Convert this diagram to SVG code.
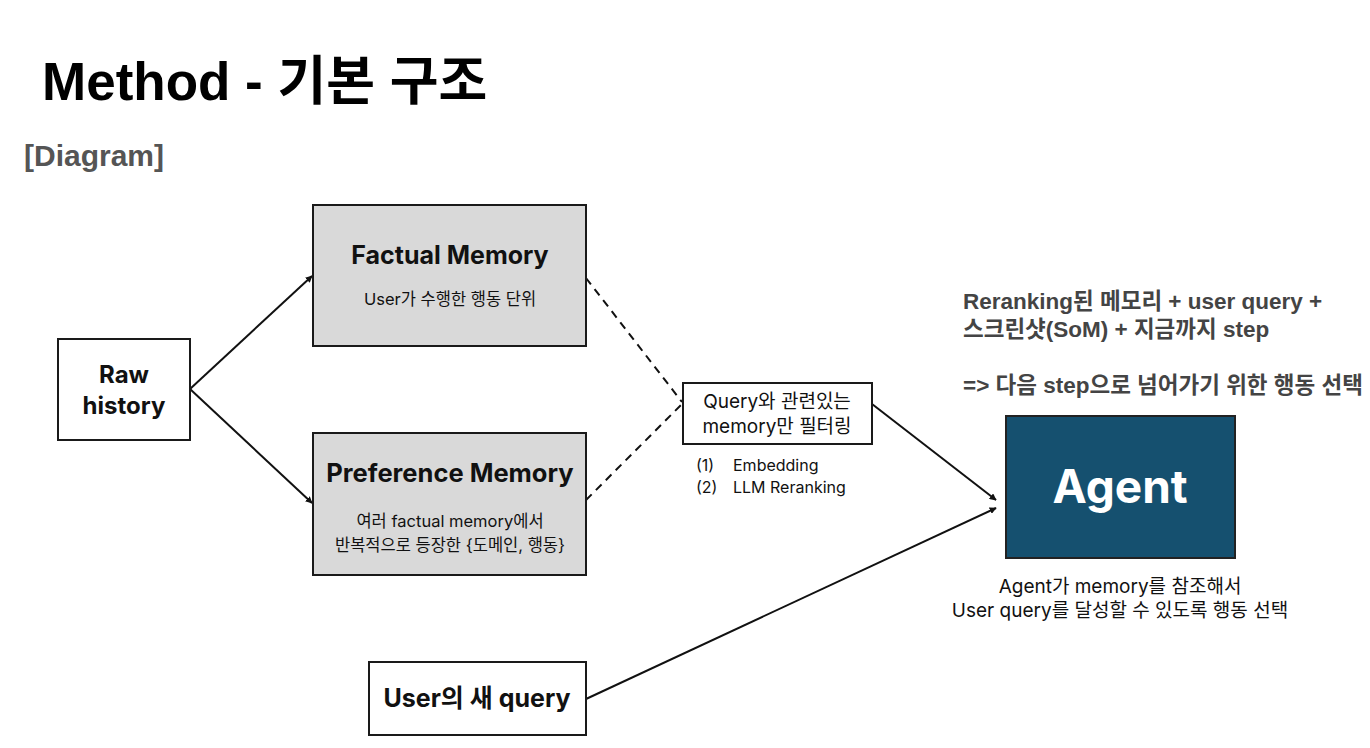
<svg xmlns="http://www.w3.org/2000/svg" width="1370" height="748" viewBox="0 0 1370 748">
<style>
.box{stroke:#1a1a1a;stroke-width:2}
.t{font-family:Inter,"Noto Sans","Noto Sans CJK KR",sans-serif;fill:#111;text-anchor:middle}
.s{font-family:Inter,"Noto Sans","Noto Sans CJK KR",sans-serif;fill:#111;text-anchor:start}
.b{font-weight:700}
.ln{stroke:#111;stroke-width:2;fill:none}
.dash{stroke-dasharray:8 6}
.note{font-family:"Liberation Sans",Arial,"Noto Sans CJK KR",sans-serif;font-weight:700;fill:#444;font-size:22.5px}
</style>
<defs>
<marker id="ah" viewBox="0 0 10 10" refX="9" refY="5" markerWidth="7" markerHeight="7" markerUnits="userSpaceOnUse" orient="auto">
<path d="M0,0 L10,5 L0,10 z" fill="#111"/>
</marker>
</defs>
<rect width="1370" height="748" fill="#fff"/>
<text x="42" y="100" font-family="Liberation Sans,Arial,'Noto Sans CJK KR',sans-serif" font-size="53" font-weight="700" fill="#000">Method - 기본 구조</text>
<text x="24" y="166" font-family="Liberation Sans,Arial,sans-serif" font-size="30" font-weight="700" fill="#555">[Diagram]</text>

<g id="connectors">
<line class="ln" x1="190" y1="389" x2="312" y2="276" marker-end="url(#ah)"/>
<line class="ln" x1="190" y1="389" x2="312" y2="503" marker-end="url(#ah)"/>
<line class="ln dash" x1="586" y1="278" x2="682" y2="402"/>
<line class="ln dash" x1="586" y1="500" x2="682" y2="404"/>
<line class="ln" x1="872" y1="404" x2="996" y2="500" marker-end="url(#ah)"/>
<line class="ln" x1="586" y1="699" x2="996" y2="508" marker-end="url(#ah)"/>
</g>

<g id="raw-history">
<rect class="box" x="58" y="339" width="132" height="101" fill="#fff"/>
<text class="t b" x="124" y="383" font-size="24">Raw</text>
<text class="t b" x="124" y="414" font-size="24">history</text>
</g>

<g id="factual-memory">
<rect class="box" x="313" y="205" width="273" height="141" fill="#d9d9d9"/>
<text class="t b" x="450" y="264" font-size="25">Factual Memory</text>
<text class="t" x="450" y="305" font-size="16.5">User가 수행한 행동 단위</text>
</g>

<g id="preference-memory">
<rect class="box" x="313" y="433" width="273" height="142" fill="#d9d9d9"/>
<text class="t b" x="450" y="482" font-size="25.5">Preference Memory</text>
<text class="t" x="450" y="527" font-size="16.5">여러 factual memory에서</text>
<text class="t" x="450" y="551" font-size="16.5">반복적으로 등장한 {도메인, 행동}</text>
</g>

<g id="query-filter">
<rect class="box" x="683" y="383" width="189" height="61" fill="#fff"/>
<text class="t" x="777" y="408" font-size="19">Query와 관련있는</text>
<text class="t" x="777" y="433" font-size="19">memory만 필터링</text>
<text class="s" x="696" y="471" font-size="16">(1)</text>
<text class="s" x="733" y="471" font-size="16">Embedding</text>
<text class="s" x="696" y="493" font-size="16">(2)</text>
<text class="s" x="733" y="493" font-size="16">LLM Reranking</text>
</g>

<g id="agent">
<rect x="1006" y="416" width="229" height="142" fill="#15506f" stroke="#222" stroke-width="2"/>
<text class="t b" x="1120" y="503" font-size="46" style="fill:#fff">Agent</text>
<text class="t" x="1120" y="593" font-size="19">Agent가 memory를 참조해서</text>
<text class="t" x="1120" y="617" font-size="19">User query를 달성할 수 있도록 행동 선택</text>
</g>

<g id="agent-note">
<text class="note" x="963" y="309">Reranking된 메모리 + user query +</text>
<text class="note" x="963" y="337">스크린샷(SoM) + 지금까지 step</text>
<text class="note" x="963" y="393">=&gt; 다음 step으로 넘어가기 위한 행동 선택</text>
</g>

<g id="user-query">
<rect class="box" x="369" y="662" width="217" height="73" fill="#fff"/>
<text class="t b" x="477" y="707" font-size="25">User의 새 query</text>
</g>
</svg>
